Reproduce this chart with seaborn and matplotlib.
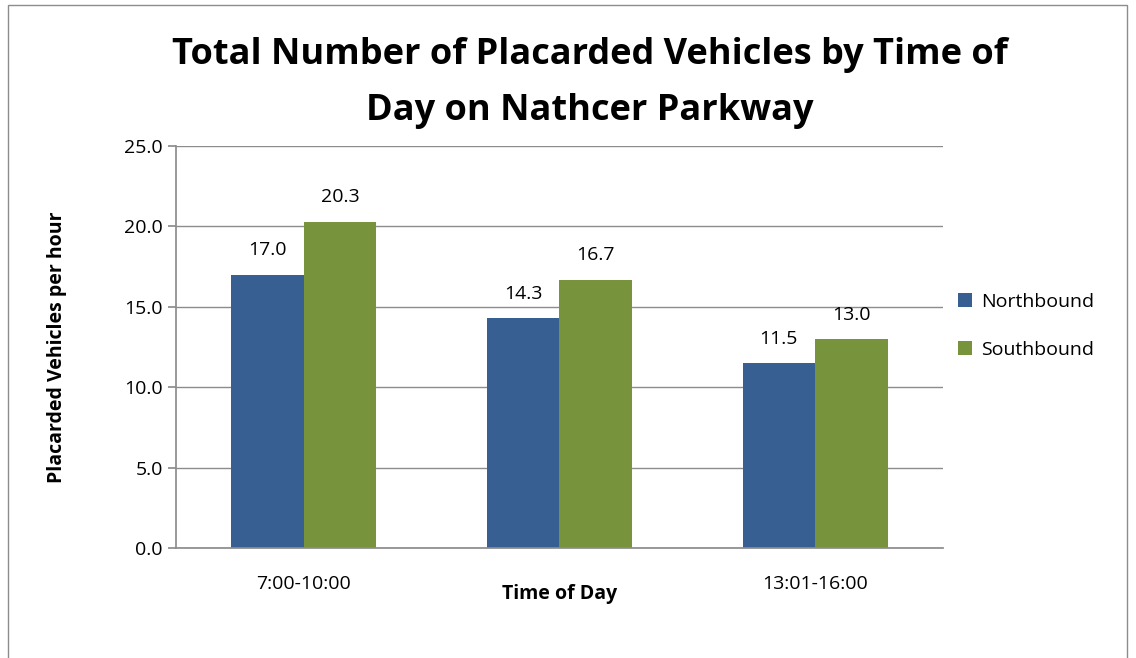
import pandas as pd
import matplotlib
matplotlib.use("Agg")
import matplotlib.pyplot as plt
import seaborn as sns
from matplotlib.patches import Rectangle

# ============================
# Data
# ============================

periods = ["7:00-10:00", "10:01-13:00", "13:01-16:00"]
tick_labels = ["7:00-10:00", "", "13:01-16:00"]
northbound = [17.0, 14.3, 11.5]
southbound = [20.3, 16.7, 13.0]
directions = ["Northbound", "Southbound"]

df = pd.DataFrame({
    "Time of Day": periods * 2,
    "Direction": [directions[0]] * 3 + [directions[1]] * 3,
    "Value": northbound + southbound,
})

# ============================
# Style
# ============================

sns.set_theme(style="white")
plt.rcParams["font.family"] = ["Open Sans", "DejaVu Sans"]
plt.rcParams["text.color"] = "black"
plt.rcParams["xtick.color"] = "black"
plt.rcParams["ytick.color"] = "black"
plt.rcParams["axes.labelcolor"] = "black"

palette = {"Northbound": "#385F91", "Southbound": "#77933C"}

fig = plt.figure(figsize=(11.36, 6.58), dpi=100)
ax = fig.add_axes([0.155, 0.167, 0.675, 0.611])

sns.barplot(
    data=df, x="Time of Day", y="Value", hue="Direction",
    palette=palette, width=0.567, saturation=1, ax=ax, legend=True,
    linewidth=0, edgecolor="none",
)

for c in ax.containers:
    ax.bar_label(c, fmt="%.1f", padding=11, fontsize=14, color="black")

# ============================
# Axes
# ============================

ax.set_ylim(0, 25)
ax.set_yticks([0, 5, 10, 15, 20, 25])
ax.set_yticklabels([f"{v:.1f}" for v in ax.get_yticks()], fontsize=14)
ax.yaxis.grid(True, color="#8c8c8c", linewidth=1)
ax.set_axisbelow(True)
ax.set_xlim(-0.5, 2.5)

ax.set_xticks(range(3))
ax.set_xticklabels(tick_labels, fontsize=14)
ax.tick_params(axis="x", length=0, pad=19)
ax.set_xticks([-0.5, 0.5, 1.5, 2.5], minor=True)
ax.tick_params(axis="x", which="minor", length=6, color="#8c8c8c", direction="out")
ax.tick_params(axis="y", length=6, color="#8c8c8c", labelcolor="black",
               direction="out", left=True)

for side in ["top", "right"]:
    ax.spines[side].set_visible(False)
for side in ["left", "bottom"]:
    ax.spines[side].set_color("#8c8c8c")

ax.set_xlabel("Time of Day", fontsize=14, fontweight="bold", labelpad=-6)
ax.set_ylabel("Placarded Vehicles per hour", fontsize=14, fontweight="bold", labelpad=41)

ax.legend(
    frameon=False, fontsize=14, loc="center left",
    bbox_to_anchor=(0.828, 0.505), bbox_transform=fig.transFigure,
    handlelength=0.7, handleheight=0.7, labelspacing=1.55, handletextpad=0.5,
)

fig.text(
    0.519, 0.874,
    "Total Number of Placarded Vehicles by Time of\nDay on Nathcer Parkway",
    ha="center", va="center", fontsize=26, fontweight="bold", linespacing=1.75,
    color="black",
)

# outer chart border
fig.patches.append(Rectangle(
    (0.007, -0.01), 0.985, 1.002, transform=fig.transFigure,
    fill=False, edgecolor="#8c8c8c", linewidth=1,
))

fig.savefig("out.png", dpi=100)
